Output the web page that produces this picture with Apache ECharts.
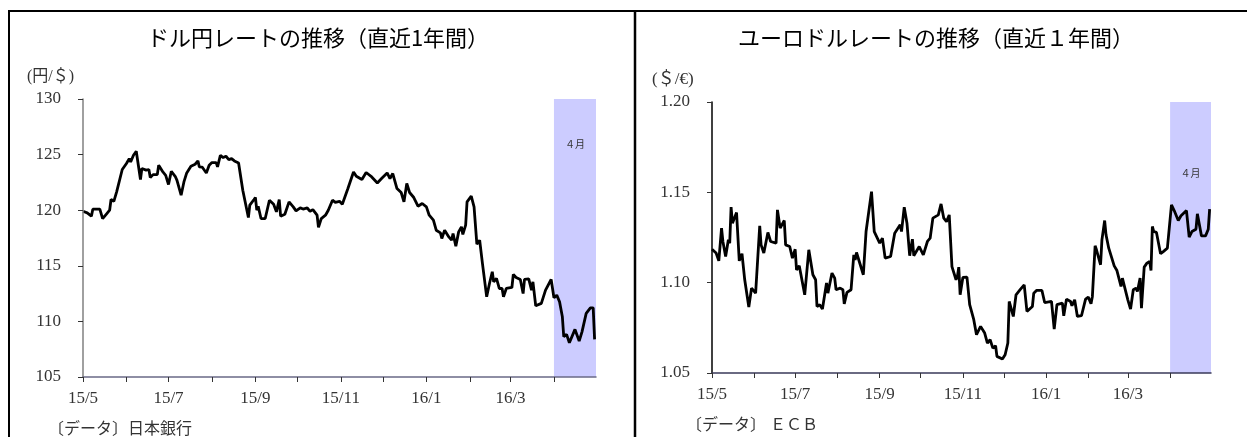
<!DOCTYPE html>
<html>
<head>
<meta charset="utf-8">
<script src="https://cdn.jsdelivr.net/npm/echarts@6/dist/echarts.min.js"></script>
<style>
html,body{margin:0;padding:0;background:#fff;}
#c{width:1247px;height:437px;}
</style>
</head>
<body>
<div id="c"></div>
<script>
// ---- data ----
const axisStart = '2015-05-01';
const axisEnd = '2016-05-01';
const bandStart = '2016-04-01';
const bandLabel = '４月';

const usdTitle = 'ドル円レートの推移（直近1年間）';
const eurTitle = 'ユーロドルレートの推移（直近１年間）';
const usdUnit = '(円/＄)';
const eurUnit = '(＄/€)';
const usdSource = '〔データ〕日本銀行';
const eurSource = '〔データ〕 ＥＣＢ';

const usdYTicks = [105, 110, 115, 120, 125, 130];
const eurYTicks = [1.05, 1.10, 1.15, 1.20];

const usdDates = ['2015-05-01','2015-05-04','2015-05-07','2015-05-08','2015-05-13','2015-05-15','2015-05-18','2015-05-20','2015-05-21','2015-05-23','2015-05-25','2015-05-29',
'2015-06-01','2015-06-03','2015-06-04','2015-06-06','2015-06-08','2015-06-11','2015-06-12','2015-06-15','2015-06-17','2015-06-18','2015-06-20','2015-06-23','2015-06-24','2015-06-27','2015-06-29',
'2015-07-01','2015-07-03','2015-07-06','2015-07-07','2015-07-10','2015-07-12','2015-07-14','2015-07-17','2015-07-20','2015-07-22','2015-07-23','2015-07-25','2015-07-28','2015-07-30',
'2015-08-01','2015-08-04','2015-08-05','2015-08-07','2015-08-09','2015-08-11','2015-08-13','2015-08-15','2015-08-17','2015-08-20','2015-08-23','2015-08-27','2015-08-28','2015-08-31',
'2015-09-01','2015-09-02','2015-09-03','2015-09-05','2015-09-08','2015-09-11','2015-09-14','2015-09-16','2015-09-18','2015-09-19','2015-09-22','2015-09-25','2015-09-28','2015-09-30',
'2015-10-03','2015-10-05','2015-10-08','2015-10-10','2015-10-12','2015-10-15','2015-10-16','2015-10-18','2015-10-21','2015-10-23','2015-10-26','2015-10-28','2015-10-31',
'2015-11-02','2015-11-06','2015-11-10','2015-11-12','2015-11-16','2015-11-19','2015-11-23','2015-11-27','2015-11-30',
'2015-12-04','2015-12-06','2015-12-08','2015-12-11','2015-12-14','2015-12-16','2015-12-18','2015-12-20','2015-12-23','2015-12-26','2015-12-29',
'2016-01-01','2016-01-03','2016-01-06','2016-01-08','2016-01-11','2016-01-12','2016-01-14','2016-01-17','2016-01-19','2016-01-20','2016-01-22','2016-01-24','2016-01-26','2016-01-27','2016-01-29','2016-01-30',
'2016-02-02','2016-02-04','2016-02-06','2016-02-08','2016-02-10','2016-02-13','2016-02-15','2016-02-17','2016-02-18','2016-02-20','2016-02-22','2016-02-24','2016-02-25','2016-02-27',
'2016-03-02','2016-03-03','2016-03-05','2016-03-08','2016-03-10','2016-03-11','2016-03-14','2016-03-16','2016-03-17','2016-03-19','2016-03-23','2016-03-26','2016-03-30',
'2016-04-01','2016-04-03','2016-04-05','2016-04-07','2016-04-08','2016-04-10','2016-04-12','2016-04-16','2016-04-19','2016-04-21','2016-04-22','2016-04-24','2016-04-27','2016-04-29','2016-04-30'];
const usdValues = [119.9,119.76,119.46,120.09,120.09,119.25,119.7,120.0,120.96,120.8,121.65,123.66,
124.2,124.64,124.34,124.94,125.3,122.76,123.75,123.6,123.66,122.94,123.2,123.2,124.04,123.44,123.14,
122.31,123.5,122.99,122.7,121.35,122.54,123.35,123.95,124.13,124.43,123.9,123.88,123.35,124.04,
124.28,124.28,123.9,124.94,124.73,124.85,124.55,124.64,124.43,124.25,121.8,119.34,120.45,120.96,
121.14,120.0,120.36,119.25,119.25,120.9,120.54,119.85,120.96,119.46,119.64,120.75,120.3,119.94,
120.21,120.1,120.2,119.9,120.05,119.55,118.45,119.25,119.55,120.0,120.9,120.7,120.8,
120.54,121.95,123.44,123.05,122.76,123.39,122.99,122.45,122.85,
123.35,122.85,123.3,121.95,121.59,120.75,122.4,121.59,121.14,120.36,120.6,
120.3,119.55,119.1,118.2,117.96,117.46,118.2,117.6,117.3,117.9,116.77,118.05,118.5,117.82,118.65,120.75,
121.26,120.3,116.95,117.3,115.2,112.21,113.41,114.46,113.56,113.86,112.96,112.96,112.21,112.96,
113.05,114.22,113.95,113.77,112.51,113.77,113.83,112.81,113.56,111.4,111.62,112.81,113.77,
112.12,112.36,111.76,110.41,108.62,108.83,108.08,109.28,108.23,109.06,109.06,110.72,111.22,111.22,108.38];

const eurDates = ['2015-05-01','2015-05-04','2015-05-06','2015-05-08','2015-05-09','2015-05-11','2015-05-13','2015-05-14','2015-05-15','2015-05-16','2015-05-19','2015-05-21','2015-05-23','2015-05-25','2015-05-28','2015-05-30',
'2015-06-02','2015-06-05','2015-06-06','2015-06-08','2015-06-11','2015-06-13','2015-06-17','2015-06-18','2015-06-20','2015-06-23','2015-06-24','2015-06-27','2015-06-29',
'2015-07-01','2015-07-02','2015-07-04','2015-07-08','2015-07-11','2015-07-14','2015-07-16','2015-07-17','2015-07-19','2015-07-21','2015-07-24','2015-07-25','2015-07-28','2015-07-30','2015-07-31',
'2015-08-03','2015-08-05','2015-08-06','2015-08-08','2015-08-11','2015-08-13','2015-08-14','2015-08-15','2015-08-20','2015-08-22','2015-08-26','2015-08-28',
'2015-09-01','2015-09-03','2015-09-05','2015-09-09','2015-09-12','2015-09-16','2015-09-17','2015-09-19','2015-09-21','2015-09-23','2015-09-25','2015-09-26','2015-09-30',
'2015-10-03','2015-10-06','2015-10-08','2015-10-10','2015-10-14','2015-10-16','2015-10-18','2015-10-20','2015-10-22','2015-10-24','2015-10-27','2015-10-28','2015-10-29','2015-10-30',
'2015-11-01','2015-11-04','2015-11-06','2015-11-09','2015-11-11','2015-11-14','2015-11-17','2015-11-19','2015-11-21','2015-11-23','2015-11-25','2015-11-26','2015-11-30',
'2015-12-02','2015-12-04','2015-12-05','2015-12-08','2015-12-10','2015-12-13','2015-12-16','2015-12-18','2015-12-22','2015-12-23','2015-12-25','2015-12-29','2015-12-31',
'2016-01-05','2016-01-07','2016-01-09','2016-01-13','2016-01-14','2016-01-16','2016-01-19','2016-01-20','2016-01-22','2016-01-24','2016-01-27','2016-01-30',
'2016-02-01','2016-02-03','2016-02-04','2016-02-06','2016-02-07','2016-02-10','2016-02-11','2016-02-13','2016-02-14','2016-02-16','2016-02-20','2016-02-22','2016-02-25','2016-02-26',
'2016-03-01','2016-03-03','2016-03-05','2016-03-07','2016-03-08','2016-03-10','2016-03-11','2016-03-13','2016-03-15','2016-03-17','2016-03-18','2016-03-19','2016-03-20','2016-03-22','2016-03-25','2016-03-27','2016-03-30',
'2016-04-02','2016-04-04','2016-04-07','2016-04-09','2016-04-13','2016-04-15','2016-04-17','2016-04-20','2016-04-21','2016-04-24','2016-04-27','2016-04-29','2016-04-30'];
const eurValues = [1.1185,1.1164,1.1121,1.1302,1.1228,1.1145,1.1237,1.1219,1.1418,1.1329,1.1388,1.1121,1.116,1.1016,1.0865,1.097,
1.0942,1.1314,1.1209,1.1164,1.1278,1.1228,1.1219,1.1403,1.1302,1.1344,1.1209,1.12,1.1136,
1.1185,1.1071,1.1093,1.0933,1.1182,1.1044,1.1016,1.0868,1.0878,1.0854,1.0998,1.0942,1.1053,1.1025,1.0961,
1.097,1.0961,1.0883,1.0946,1.0961,1.1154,1.1126,1.1167,1.1044,1.1283,1.1504,1.1283,
1.1219,1.1246,1.1136,1.1145,1.1274,1.132,1.1283,1.1418,1.1329,1.1149,1.1241,1.1149,1.12,
1.1154,1.1228,1.1246,1.1357,1.1375,1.1436,1.1357,1.1338,1.1375,1.1089,1.1016,1.1034,1.1086,1.0933,
1.1029,1.1031,1.0878,1.0795,1.0712,1.0758,1.0721,1.0666,1.0684,1.0638,1.0651,1.0592,1.0577,
1.0601,1.0666,1.0896,1.0813,1.0933,1.0961,1.0988,1.0841,1.0868,1.0942,1.0957,1.0957,1.089,
1.0896,1.0743,1.0878,1.0887,1.0817,1.0909,1.0896,1.0872,1.0905,1.0813,1.0817,1.0909,
1.092,1.0883,1.0924,1.1204,1.1182,1.1099,1.1237,1.1344,1.1265,1.1191,1.1093,1.1067,1.0979,1.1025,
1.0905,1.0854,1.0961,1.097,1.0951,1.1025,1.0859,1.1086,1.1108,1.1117,1.1067,1.1311,1.1283,1.1278,1.116,1.1172,1.1191,
1.1431,1.1399,1.1344,1.137,1.1399,1.1252,1.1283,1.1296,1.1381,1.1259,1.1259,1.1296,1.1407];

// ---- build category days ----
function dayList(a, b) {
  const out = [];
  const s = Date.parse(a + 'T00:00:00Z'), e = Date.parse(b + 'T00:00:00Z');
  for (let t = s; t <= e; t += 86400000) out.push(new Date(t).toISOString().slice(0, 10));
  return out;
}
const days = dayList(axisStart, axisEnd);
const lastIdx = days.length - 1;
const isMonthStart = (i, v) => v.slice(8) === '01' && i < lastIdx;
const isOddMonthStart = (i, v) => isMonthStart(i, v) && (parseInt(v.slice(5, 7), 10) % 2 === 1);
const fmtMonth = v => v.slice(2, 4) + '/' + parseInt(v.slice(5, 7), 10);

const serif = '"Liberation Serif", "DejaVu Serif", "Noto Sans CJK JP", serif';
const gothic = '"Noto Sans CJK JP", "Noto Sans", sans-serif';

function xAxisFor(gi, lineColor) {
  return {
    type: 'category', gridIndex: gi, data: days, boundaryGap: false, z: 5,
    axisLine: { show: true, lineStyle: { color: lineColor, width: 1.5 } },
    axisTick: { show: true, interval: isMonthStart, length: 5, inside: false, lineStyle: { color: '#333', width: 1 } },
    axisLabel: { interval: isOddMonthStart, formatter: fmtMonth, margin: 13, fontSize: 17, fontFamily: serif, color: '#333' },
    splitLine: { show: false }
  };
}
function yAxisFor(gi, ticks, lineColor, fmt, margin) {
  return {
    type: 'value', gridIndex: gi, min: ticks[0], max: ticks[ticks.length - 1],
    interval: +(ticks[1] - ticks[0]).toFixed(4), z: 5,
    axisLine: { show: true, lineStyle: { color: lineColor, width: 1.5 } },
    axisTick: { show: true, length: 5, lineStyle: { color: '#333', width: 1 } },
    axisLabel: { formatter: fmt, margin: margin, fontSize: 17, fontFamily: serif, color: '#333' },
    splitLine: { show: false }
  };
}
function lineSeries(xi, dates, values, labelDist) {
  return {
    type: 'line', xAxisIndex: xi, yAxisIndex: xi,
    data: dates.map((d, i) => [d, values[i]]),
    showSymbol: false, symbol: 'none', animation: false,
    lineStyle: { color: '#000', width: 2.8 },
    markArea: {
      silent: true,
      itemStyle: { color: '#ccccff', opacity: 1 },
      label: { show: true, position: 'insideTop', distance: labelDist, fontSize: 10, color: '#333', fontFamily: serif },
      data: [[{ xAxis: bandStart, name: bandLabel }, { xAxis: axisEnd }]]
    }
  };
}

const chart = echarts.init(document.getElementById('c'), null, { renderer: 'canvas' });
chart.setOption({
  animation: false,
  backgroundColor: '#fff',
  grid: [
    { left: 83, top: 99, width: 513, height: 278 },
    { left: 712, top: 102, width: 499, height: 271 }
  ],
  xAxis: [xAxisFor(0, '#6a6a86'), xAxisFor(1, '#3a3a5a')],
  yAxis: [
    yAxisFor(0, usdYTicks, '#808080', v => String(v), 22),
    yAxisFor(1, eurYTicks, '#000', v => v.toFixed(2), 22)
  ],
  series: [
    lineSeries(0, usdDates, usdValues, 41),
    lineSeries(1, eurDates, eurValues, 67)
  ],
  graphic: [
    { type: 'rect', shape: { x: 9, y: 11, width: 1260, height: 460 }, style: { fill: 'none', stroke: '#000', lineWidth: 2 }, silent: true },
    { type: 'line', shape: { x1: 635, y1: 11, x2: 635, y2: 437 }, style: { stroke: '#000', lineWidth: 2.5 }, silent: true },
    { type: 'text', x: 318, y: 38, style: { text: usdTitle, font: '22px ' + gothic, fill: '#000', align: 'center', verticalAlign: 'middle' } },
    { type: 'text', x: 936, y: 38, style: { text: eurTitle, font: '22px ' + gothic, fill: '#000', align: 'center', verticalAlign: 'middle' } },
    { type: 'text', x: 27, y: 77, style: { text: usdUnit, font: '16px ' + serif, fill: '#333', align: 'left', verticalAlign: 'middle' } },
    { type: 'text', x: 652, y: 80, style: { text: eurUnit, font: '17px ' + serif, fill: '#333', align: 'left', verticalAlign: 'middle' } },
    { type: 'text', x: 48, y: 430, style: { text: usdSource, font: '16px ' + serif, fill: '#333', align: 'left', verticalAlign: 'middle' } },
    { type: 'text', x: 686, y: 426, style: { text: eurSource, font: '16px ' + serif, fill: '#333', align: 'left', verticalAlign: 'middle' } }
  ]
});
</script>
</body>
</html>
